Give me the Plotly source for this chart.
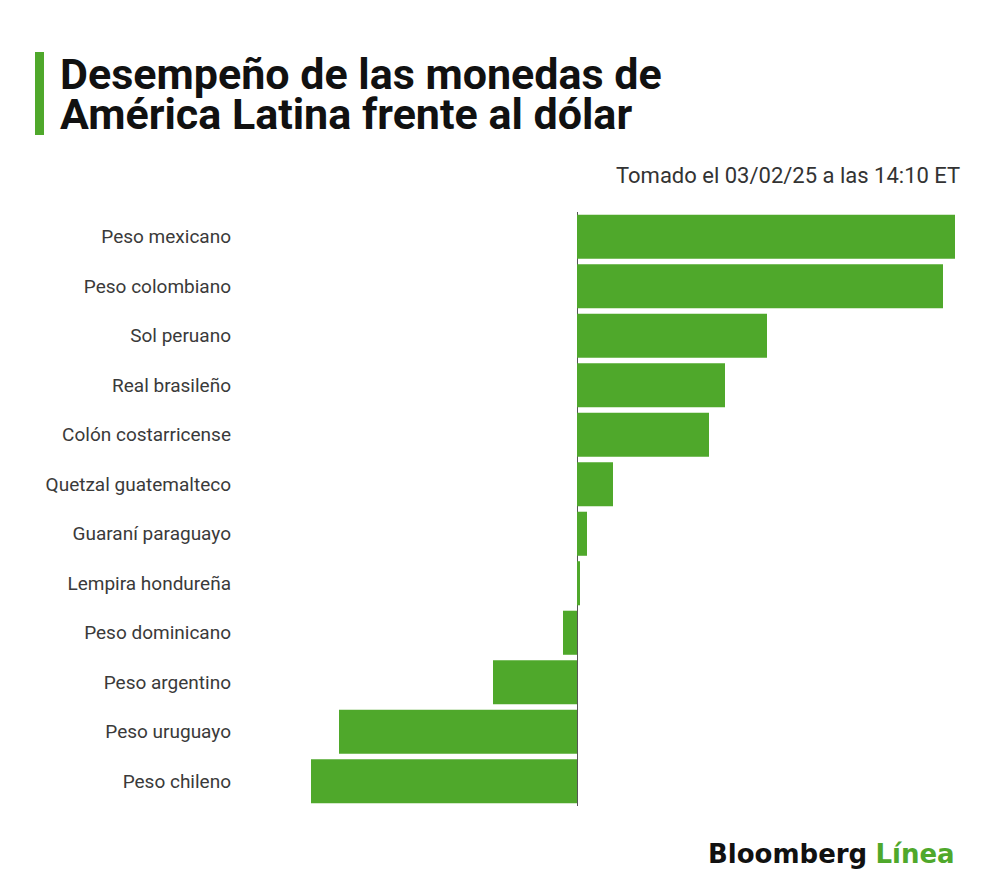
import plotly.graph_objects as go

# Currency performance vs USD (%)
monedas = [
    "Peso mexicano", "Peso colombiano", "Sol peruano", "Real brasileño",
    "Colón costarricense", "Quetzal guatemalteco", "Guaraní paraguayo",
    "Lempira hondureña", "Peso dominicano", "Peso argentino",
    "Peso uruguayo", "Peso chileno",
]
variacion = [1.89, 1.83, 0.95, 0.74, 0.66, 0.18, 0.05, 0.015,
             -0.07, -0.42, -1.19, -1.33]

titulo = ["Desempeño de las monedas de", "América Latina frente al dólar"]
subtitulo = "Tomado el 03/02/25 a las 14:10 ET"

GREEN = "#4fa82b"

# plot area on screen (page has an 8px body margin)
PL, PT, PW, PH = 232, 212, 728, 594


def px(sx):
    return (sx - PL) / PW


def py(sy):
    return 1 - (sy - PT) / PH


fig = go.Figure()
fig.add_trace(go.Bar(
    x=variacion,
    y=monedas,
    orientation="h",
    marker=dict(color=GREEN, line=dict(width=0)),
    hoverinfo="x+y",
))

fig.update_layout(
    width=1000,
    height=895,
    paper_bgcolor="white",
    plot_bgcolor="white",
    showlegend=False,
    bargap=0.11,
    margin=dict(l=PL - 8, r=1000 - (PL - 8) - PW, t=PT - 8, b=895 - (PT - 8) - PH),
    font=dict(family="Roboto, sans-serif", color="#444"),
    xaxis=dict(
        range=[-1.725, 1.915],
        showgrid=False,
        showticklabels=False,
        zeroline=True,
        zerolinecolor="#555",
        zerolinewidth=1,
        fixedrange=True,
    ),
    yaxis=dict(
        categoryorder="array",
        categoryarray=monedas[::-1],
        showgrid=False,
        ticks="",
        tickfont=dict(size=19, color="#3a3a3a", family="Roboto, sans-serif"),
        fixedrange=True,
    ),
)

# green accent bar beside the title
fig.add_shape(type="rect", xref="paper", yref="paper",
              x0=px(35), x1=px(44), y0=py(52), y1=py(135),
              fillcolor=GREEN, line=dict(width=0))

for i, linea in enumerate(titulo):
    fig.add_annotation(
        text=linea,
        xref="paper", yref="paper",
        x=px(58), y=py(74 + 40 * i),
        xanchor="left", yanchor="middle", showarrow=False,
        font=dict(family="Roboto, sans-serif", size=43, color="#111", weight="bold"),
    )

fig.add_annotation(
    text=subtitulo,
    xref="paper", yref="paper",
    x=px(962), y=py(175),
    xanchor="right", yanchor="middle", showarrow=False,
    font=dict(family="Roboto, sans-serif", size=22, color="#333"),
)

fig.add_annotation(
    text="<b>Bloomberg</b> <b><span style='color:%s'>Línea</span></b>" % GREEN,
    xref="paper", yref="paper",
    x=px(957), y=py(854),
    xanchor="right", yanchor="middle", showarrow=False,
    font=dict(family="DejaVu Sans, sans-serif", size=26, color="#111"),
)

fig.write_html("out.html")
